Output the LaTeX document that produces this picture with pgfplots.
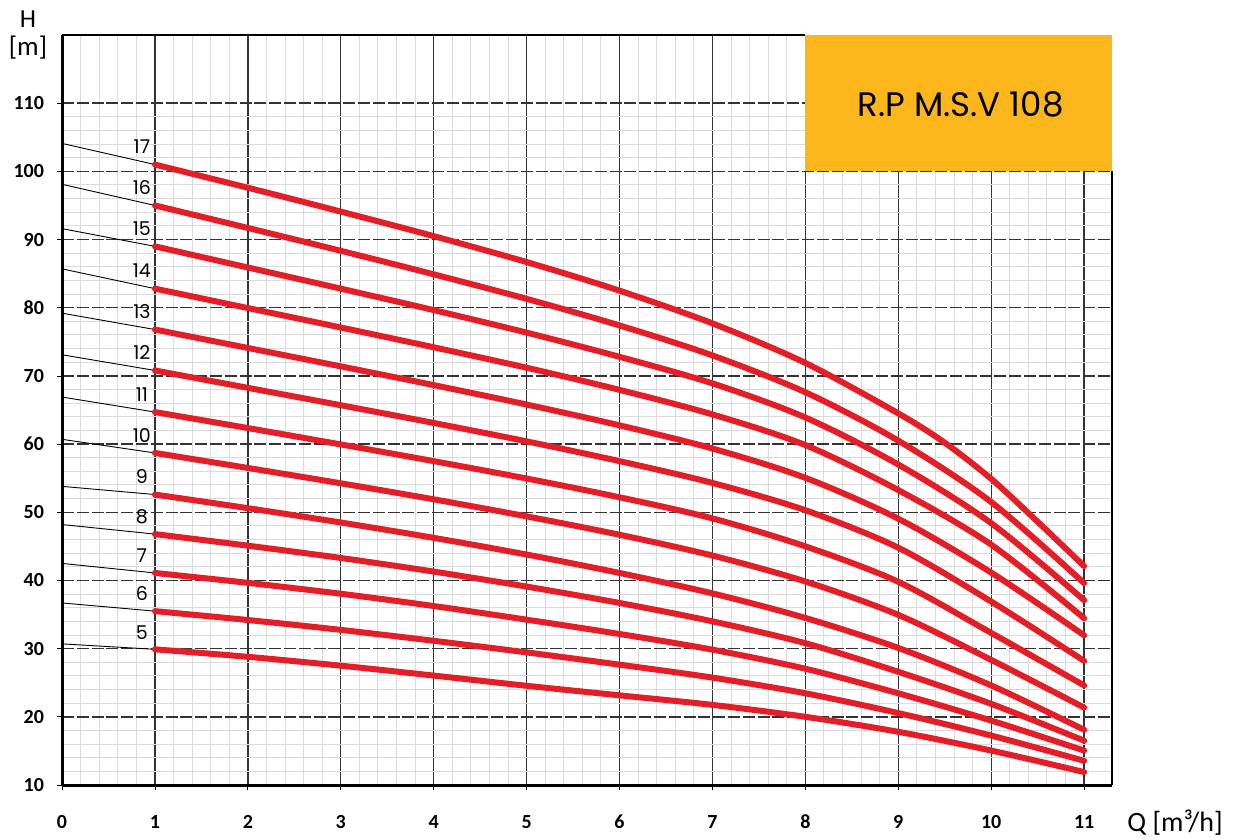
\documentclass[border=0pt]{standalone}
\usepackage{pgfplots}
\pgfplotsset{compat=1.18}
\usepackage{fontspec}
\setmainfont{Carlito}
\newfontfamily\popp{Poppins}
\definecolor{cred}{RGB}{228,30,38}
\definecolor{corange}{RGB}{250,182,27}
\pgfplotsset{
  pcurve/.style={cred, line width=3pt, smooth, tension=0.5, line cap=round, line join=round},
  pthin/.style={black, line width=0.45pt},
}
\tikzset{plab/.style={font=\popp\fontsize{9.5}{11}\selectfont, inner sep=0pt}}
\begin{document}
\begin{tikzpicture}
\begin{axis}[
  scale only axis, width=525pt, height=375pt,
  xmin=0, xmax=11.3, ymin=10, ymax=120,
  xtick={0,1,...,11}, ytick={10,20,...,110},
  minor x tick num=4, minor y tick num=4,
  grid=both,
  minor grid style={line width=0.5pt, black!14},
  major x grid style={line width=0.7pt, black!80},
  major y grid style={line width=0.7pt, black!80, dash pattern=on 6pt off 1.4pt},
  axis line style={draw=none},
  tick pos=left,
  tick align=outside, major tick length=2.5pt, minor tick length=0pt,
  tick style={black, line width=0.4pt},
  /pgf/number format/assume math mode=true,
  ticklabel style={font=\fontsize{10}{12}\selectfont\bfseries},
  xticklabel style={yshift=-9pt},
  yticklabel style={xshift=-3pt},
  clip=false,
]
\coordinate (SW) at (rel axis cs:0,0);
\coordinate (NE) at (rel axis cs:1,1);
% title box
\fill[corange] (axis cs:8,100) rectangle (axis cs:11.3,120);
\node[font=\popp\fontsize{17}{20}\selectfont] at (axis cs:9.67,109.8) {R.P M.S.V 108};

% thin lines from shut-off head
\addplot[pthin] coordinates {(0,104.1)(1,101.0)};
\addplot[pthin] coordinates {(0,98.1)(1,95.0)};
\addplot[pthin] coordinates {(0,91.6)(1,89.0)};
\addplot[pthin] coordinates {(0,85.7)(1,82.8)};
\addplot[pthin] coordinates {(0,79.2)(1,76.8)};
\addplot[pthin] coordinates {(0,73.1)(1,70.8)};
\addplot[pthin] coordinates {(0,66.9)(1,64.7)};
\addplot[pthin] coordinates {(0,60.7)(1,58.7)};
\addplot[pthin] coordinates {(0,53.8)(1,52.6)};
\addplot[pthin] coordinates {(0,48.2)(1,46.8)};
\addplot[pthin] coordinates {(0,42.5)(1,41.1)};
\addplot[pthin] coordinates {(0,36.7)(1,35.5)};
\addplot[pthin] coordinates {(0,30.7)(1,29.9)};

% pump curves (stages 17 ... 5)
\addplot[pcurve] coordinates {(1,101.0)(2,97.6)(3,94.1)(4,90.5)(5,86.7)(6,82.5)(7,77.7)(8,71.9)(9,64.5)(9.5,60.2)(10,54.9)(10.5,48.6)(11,42.1)};
\addplot[pcurve] coordinates {(1,95.0)(2,91.7)(3,88.35)(4,84.9)(5,81.3)(6,77.4)(7,73.0)(8,67.6)(9,60.5)(10,51.5)(11,39.6)};
\addplot[pcurve] coordinates {(1,89.0)(2,85.9)(3,82.8)(4,79.65)(5,76.35)(6,72.8)(7,68.9)(8,63.9)(9,57.0)(10,48.4)(11,37.1)};
\addplot[pcurve] coordinates {(1,82.8)(2,79.95)(3,77.1)(4,74.2)(5,71.2)(6,67.95)(7,64.35)(8,59.85)(9,53.25)(10,45.25)(11,34.45)};
\addplot[pcurve] coordinates {(1,76.8)(2,74.1)(3,71.4)(4,68.65)(5,65.8)(6,62.75)(7,59.35)(8,55.05)(9,49.05)(10,41.15)(11,31.95)};
\addplot[pcurve] coordinates {(1,70.8)(2,68.25)(3,65.7)(4,63.1)(5,60.4)(6,57.5)(7,54.3)(8,50.3)(9,44.8)(10,36.9)(11,28.2)};
\addplot[pcurve] coordinates {(1,64.7)(2,62.35)(3,59.95)(4,57.5)(5,54.95)(6,52.2)(7,49.1)(8,45.0)(9,39.8)(10,32.3)(11,24.6)};
\addplot[pcurve] coordinates {(1,58.7)(2,56.5)(3,54.25)(4,51.9)(5,49.4)(6,46.7)(7,43.65)(8,39.85)(9,34.95)(10,28.35)(11,21.35)};
\addplot[pcurve] coordinates {(1,52.6)(2,50.6)(3,48.5)(4,46.25)(5,43.8)(6,41.1)(7,38.1)(8,34.5)(9,30.1)(10,24.6)(11,18.1)};
\addplot[pcurve] coordinates {(1,46.8)(2,45.1)(3,43.3)(4,41.3)(5,39.1)(6,36.7)(7,34.0)(8,30.8)(9,26.6)(10,21.9)(11,16.5)};
\addplot[pcurve] coordinates {(1,41.1)(2,39.65)(3,38.05)(4,36.25)(5,34.25)(6,32.15)(7,29.85)(8,27.05)(9,23.45)(10,19.45)(11,15.05)};
\addplot[pcurve] coordinates {(1,35.5)(2,34.2)(3,32.75)(4,31.15)(5,29.45)(6,27.65)(7,25.75)(8,23.45)(9,20.55)(10,17.25)(11,13.55)};
\addplot[pcurve] coordinates {(1,29.9)(2,28.8)(3,27.5)(4,26.05)(5,24.55)(6,23.15)(7,21.75)(8,20.0)(9,17.8)(10,15.05)(11,11.9)};

% stage labels
\node[plab] at (axis cs:0.86,103.6) {17};
\node[plab] at (axis cs:0.86,97.6) {16};
\node[plab] at (axis cs:0.86,91.6) {15};
\node[plab] at (axis cs:0.86,85.4) {14};
\node[plab] at (axis cs:0.86,79.4) {13};
\node[plab] at (axis cs:0.86,73.4) {12};
\node[plab] at (axis cs:0.86,67.3) {11};
\node[plab] at (axis cs:0.86,61.3) {10};
\node[plab] at (axis cs:0.86,55.2) {9};
\node[plab] at (axis cs:0.86,49.4) {8};
\node[plab] at (axis cs:0.86,43.7) {7};
\node[plab] at (axis cs:0.86,38.1) {6};
\node[plab] at (axis cs:0.86,32.3) {5};

% frame
\draw[line width=1.5pt] (axis cs:0,10) -- (axis cs:0,120);
\draw[line width=1.5pt] (axis cs:0,10) -- (axis cs:11.3,10);
\draw[line width=1.3pt] (axis cs:0,120) -- (axis cs:8,120);
\draw[line width=1.3pt] (axis cs:11.3,100) -- (axis cs:11.3,10);
\end{axis}
\node[font=\fontsize{13}{15}\selectfont] at ([xshift=-17pt,yshift=8pt]SW |- NE) {H};
\node[font=\fontsize{13.5}{15}\selectfont] at ([xshift=-17pt,yshift=-6.5pt]SW |- NE) {[m]};
\node[font=\fontsize{14}{16}\selectfont] at ([xshift=31.5pt,yshift=-19pt]NE |- SW) {Q [m³/h]};
\pgfresetboundingbox
\path[use as bounding box] ([xshift=-31pt,yshift=-27pt]SW) rectangle ([xshift=63pt,yshift=17.5pt]NE);
\end{tikzpicture}
\end{document}
